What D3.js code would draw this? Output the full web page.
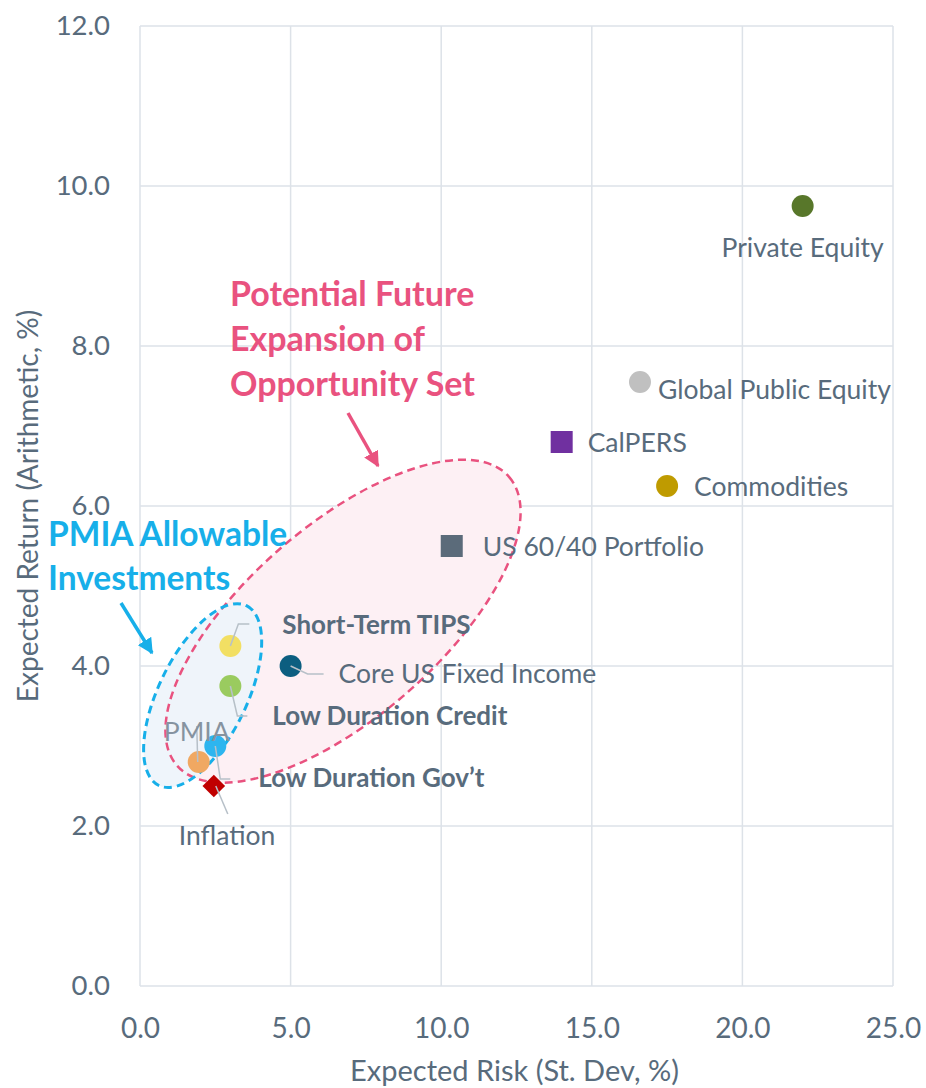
<!DOCTYPE html>
<html>
<head>
<meta charset="utf-8">
<script src="https://cdn.jsdelivr.net/npm/d3@7"></script>
<style>
  body { margin: 0; background: #fff; }
  svg text { font-family: Lato, "Open Sans", sans-serif; }
</style>
</head>
<body>
<div id="chart"></div>
<script>
// data
const names = ["Private Equity", "Global Public Equity", "CalPERS", "Commodities", "US 60/40 Portfolio",
    "Short-Term TIPS", "Core US Fixed Income", "Low Duration Credit", "PMIA", "Low Duration Gov\u2019t", "Inflation"];
const risk = [22.0, 16.6, 14.0, 17.5, 10.35, 3.0, 5.0, 3.0, 1.95, 2.5, 2.45];
const ret = [9.75, 7.55, 6.8, 6.25, 5.5, 4.25, 4.0, 3.75, 2.8, 3.0, 2.5];
const shapes = ["circle", "circle", "square", "circle", "square", "circle", "circle", "circle", "circle", "circle", "diamond"];
const colors = ["#58772a", "#c0c0c0", "#7030a0", "#bf9b00", "#5b6b7a", "#f2df63", "#0c5e80", "#9acb5f", "#f0a862", "#2db5ef", "#c00000"];

const xTicks = [0, 5, 10, 15, 20, 25];
const yTicks = [0, 2, 4, 6, 8, 10, 12];

// label placement, pixel offsets from the point
const labelLayout = {
    "Private Equity": { dx: 0, dy: 51, anchor: "middle" },
    "Global Public Equity": { dx: 18, dy: 17 },
    "CalPERS": { dx: 26, dy: 10 },
    "Commodities": { dx: 27, dy: 10 },
    "US 60/40 Portfolio": { dx: 31, dy: 10 },
    "Short-Term TIPS": { dx: 52, dy: -12, bold: true, leader: [[0, 0], [8, -22], [19, -22]] },
    "Core US Fixed Income": { dx: 48, dy: 17, leader: [[0, 0], [17, 8], [33, 8]] },
    "Low Duration Credit": { dx: 42, dy: 39, bold: true, leader: [[0, 0], [7, 30], [17, 30]] },
    "PMIA": { dx: -35, dy: -21, color: "#8693a0", leader: [[-2, -36], [-1, 0]] },
    "Low Duration Gov\u2019t": { dx: 43, dy: 41, bold: true, leader: [[0, 0], [5, 33], [15, 33]] },
    "Inflation": { dx: -35, dy: 59, leader: [[2, 0], [14, 28]] }
};

const width = 926, height = 1088;
const margin = { top: 26, right: 33, bottom: 102, left: 140 };

const svg = d3.select("#chart").append("svg")
    .attr("width", width)
    .attr("height", height);

const x = d3.scaleLinear().domain([0, 25]).range([margin.left, width - margin.right]);
const y = d3.scaleLinear().domain([0, 12]).range([height - margin.bottom, margin.top]);

const textColor = "#586b7c";
const gridColor = "#dde2e8";

// grid
svg.append("g").selectAll("line.v")
    .data(xTicks).enter().append("line")
    .attr("x1", d => x(d)).attr("x2", d => x(d))
    .attr("y1", y(0)).attr("y2", y(12))
    .attr("stroke", gridColor).attr("stroke-width", 1.5);

svg.append("g").selectAll("line.h")
    .data(yTicks).enter().append("line")
    .attr("x1", x(0)).attr("x2", x(25))
    .attr("y1", d => y(d)).attr("y2", d => y(d))
    .attr("stroke", gridColor).attr("stroke-width", 1.5);

// axes (labels only)
const xAxis = d3.axisBottom(x).tickValues(xTicks).tickFormat(d3.format(".1f")).tickSize(0).tickPadding(32);
const yAxis = d3.axisLeft(y).tickValues(yTicks).tickFormat(d3.format(".1f")).tickSize(0).tickPadding(30);

svg.append("g").attr("transform", `translate(0,${y(0)})`).call(xAxis)
    .call(g => g.select(".domain").remove())
    .selectAll("text").attr("font-size", 28).attr("fill", textColor).style("font-family", "Lato, sans-serif");

svg.append("g").attr("transform", `translate(${x(0)},0)`).call(yAxis)
    .call(g => g.select(".domain").remove())
    .selectAll("text").attr("font-size", 27.5).attr("fill", textColor).style("font-family", "Lato, sans-serif");

svg.append("text")
    .attr("x", (x(0) + x(25)) / 2 - 2)
    .attr("y", 1081)
    .attr("text-anchor", "middle")
    .attr("font-size", 29)
    .attr("fill", textColor)
    .text("Expected Risk (St. Dev, %)");

svg.append("text")
    .attr("transform", `translate(38,${(y(0) + y(12)) / 2}) rotate(-90)`)
    .attr("text-anchor", "middle")
    .attr("font-size", 28)
    .attr("fill", textColor)
    .text("Expected Return (Arithmetic, %)");

// opportunity set ellipses
const pink = "#e9527f", blue = "#17afe9";
const pinkC = [x(6.74), y(4.56)], blueC = [x(2.08), y(3.63)];
const pinkR = [220, 96], blueR = [100, 44];

svg.append("ellipse")
    .attr("transform", `translate(${pinkC[0]},${pinkC[1]}) rotate(-41)`)
    .attr("rx", pinkR[0]).attr("ry", pinkR[1])
    .attr("fill", "#fdf0f4");

svg.append("ellipse")
    .attr("transform", `translate(${blueC[0]},${blueC[1]}) rotate(-64)`)
    .attr("rx", blueR[0]).attr("ry", blueR[1])
    .attr("fill", "#edf4fb").attr("fill-opacity", 0.9);

svg.append("ellipse")
    .attr("transform", `translate(${pinkC[0]},${pinkC[1]}) rotate(-41)`)
    .attr("rx", pinkR[0]).attr("ry", pinkR[1])
    .attr("fill", "none").attr("stroke", pink).attr("stroke-width", 2.5)
    .attr("stroke-dasharray", "8,5");

svg.append("ellipse")
    .attr("transform", `translate(${blueC[0]},${blueC[1]}) rotate(-64)`)
    .attr("rx", blueR[0]).attr("ry", blueR[1])
    .attr("fill", "none").attr("stroke", blue).attr("stroke-width", 3)
    .attr("stroke-dasharray", "8,5");

// arrows
const defs = svg.append("defs");
[["pinkHead", pink], ["blueHead", blue]].forEach(([id, c]) => {
    defs.append("marker")
        .attr("id", id)
        .attr("viewBox", "0 0 10 10")
        .attr("refX", 9).attr("refY", 5)
        .attr("markerWidth", 4.5).attr("markerHeight", 4.5)
        .attr("orient", "auto")
        .append("path").attr("d", "M0,0 L10,5 L0,10 z").attr("fill", c);
});

svg.append("line")
    .attr("x1", 348).attr("y1", 413).attr("x2", 378).attr("y2", 466)
    .attr("stroke", pink).attr("stroke-width", 3.5)
    .attr("marker-end", "url(#pinkHead)");

svg.append("line")
    .attr("x1", 121).attr("y1", 603).attr("x2", 152).attr("y2", 653)
    .attr("stroke", blue).attr("stroke-width", 3.5)
    .attr("marker-end", "url(#blueHead)");

// annotation text
const pinkNote = svg.append("text").attr("font-size", 34).attr("font-weight", 700).attr("fill", pink);
["Potential Future", "Expansion of", "Opportunity Set"].forEach((t, i) => {
    pinkNote.append("tspan").attr("x", 230).attr("y", 306 + i * 45).text(t);
});

const blueNote = svg.append("text").attr("font-size", 33.5).attr("font-weight", 700).attr("fill", blue);
["PMIA Allowable", "Investments"].forEach((t, i) => {
    blueNote.append("tspan").attr("x", 48).attr("y", 546 + i * 44).text(t);
});

// points
const pts = names.map((n, i) => ({ name: n, cx: x(risk[i]), cy: y(ret[i]), shape: shapes[i], color: colors[i] }));

const marks = svg.append("g");
pts.forEach(p => {
    if (p.shape === "circle") {
        marks.append("circle").attr("cx", p.cx).attr("cy", p.cy).attr("r", 11).attr("fill", p.color);
    } else if (p.shape === "square") {
        marks.append("rect").attr("x", p.cx - 11).attr("y", p.cy - 11)
            .attr("width", 22).attr("height", 22).attr("fill", p.color);
    } else {
        marks.append("rect").attr("x", -8).attr("y", -8).attr("width", 16).attr("height", 16)
            .attr("transform", `translate(${p.cx},${p.cy}) rotate(45)`)
            .attr("fill", p.color);
    }
});

// leader lines
const line = d3.line();
pts.forEach(p => {
    const L = labelLayout[p.name];
    if (!L.leader) return;
    svg.append("path")
        .attr("d", line(L.leader.map(([dx, dy]) => [p.cx + dx, p.cy + dy])))
        .attr("fill", "none").attr("stroke", "#b7c0c8").attr("stroke-width", 1.5);
});

// labels
pts.forEach(p => {
    const L = labelLayout[p.name];
    svg.append("text")
        .attr("x", p.cx + L.dx).attr("y", p.cy + L.dy)
        .attr("text-anchor", L.anchor || "start")
        .attr("font-size", L.bold ? 26 : 26.5)
        .attr("font-weight", L.bold ? 700 : 400)
        .attr("fill", L.color || textColor)
        .text(p.name);
});
</script>
</body>
</html>
